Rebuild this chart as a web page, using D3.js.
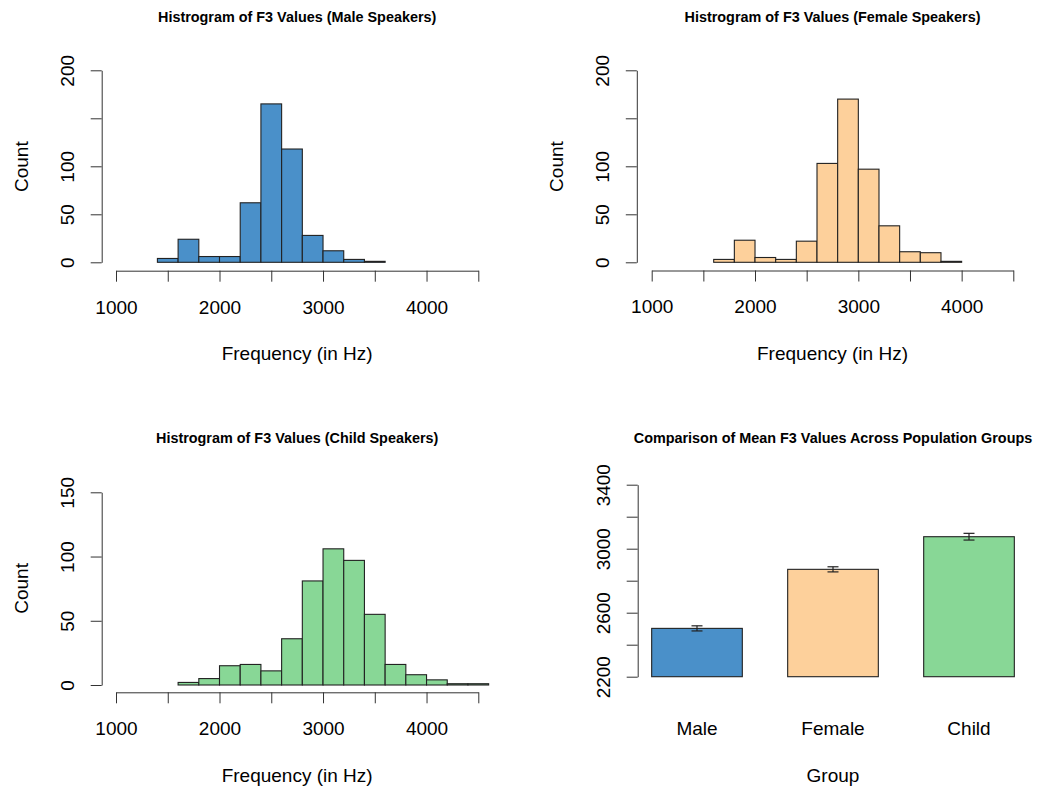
<!DOCTYPE html>
<html><head><meta charset="utf-8">
<script src="https://cdn.jsdelivr.net/npm/d3@7"></script>
<style>
html,body{margin:0;padding:0;background:#fff;}
svg{display:block;font-family:"Liberation Sans",Arial,sans-serif;}
</style></head>
<body><svg id="c" width="1037" height="786"></svg>
<script>
// ---------- data ----------
const binWidth = 200;
const maleBins   = [1400,1600,1800,2000,2200,2400,2600,2800,3000,3200,3400];
const maleCounts = [4,24,6,6,62,165,118,28,12,3,1];
const femaleBins   = [1600,1800,2000,2200,2400,2600,2800,3000,3200,3400,3600,3800];
const femaleCounts = [3,23,5,3,22,103,170,97,38,11,10,1];
const childBins   = [1600,1800,2000,2200,2400,2600,2800,3000,3200,3400,3600,3800,4000,4200,4400];
const childCounts = [2,5,15,16,11,36,81,106,97,55,16,8,4,1,1];
const groups = ["Male","Female","Child"];
const groupMeans = [2502,2871,3075];
const groupSE = [16,16,21];
const freqTicks = [1000,1500,2000,2500,3000,3500,4000,4500];
const freqTickLabels = [1000,2000,3000,4000];
const countTicks200 = [0,50,100,150,200];
const countLabels200 = [0,50,100,200];
const countTicks150 = [0,50,100,150];
const countLabels150 = [0,50,100,150];
const meanTicks = [2200,2400,2600,2800,3000,3200,3400];
const meanTickLabels = [2200,2600,3000,3400];
const colors = {Male:"#4a90c9", Female:"#fdd09b", Child:"#88d796"};

const svg = d3.select("#c");
const FS = 19, TFS = 14.4, AX = "#333";

function styleAxis(g){
  g.select(".domain").attr("stroke",AX).attr("stroke-width",1);
  g.selectAll(".tick line").attr("stroke",AX).attr("stroke-width",1);
  g.selectAll("text").attr("font-size",FS).attr("fill","#000").attr("font-family","Liberation Sans, Arial, sans-serif");
}

function bottomAxis(x, ticks, labels, yPos){
  const g = svg.append("g").attr("transform",`translate(0,${yPos})`)
    .call(d3.axisBottom(x).tickValues(ticks).tickSize(11).tickSizeOuter(0)
      .tickFormat(d => labels.includes(d) ? String(d) : ""));
  styleAxis(g);
  g.selectAll(".tick text").attr("y",29.5).attr("dy","0.71em");
  return g;
}
function leftAxis(y, ticks, labels, xPos){
  const g = svg.append("g").attr("transform",`translate(${xPos},0)`)
    .call(d3.axisLeft(y).tickValues(ticks).tickSize(11).tickSizeOuter(0)
      .tickFormat(d => labels.includes(d) ? String(d) : ""));
  styleAxis(g);
  g.selectAll(".tick text").attr("x",null).attr("dy",null)
    .attr("text-anchor","middle").attr("transform","translate(-27.7,0) rotate(-90)");
  return g;
}
function title(txt, cx, by){
  svg.append("text").attr("x",cx).attr("y",by).attr("text-anchor","middle")
    .attr("font-size",TFS).attr("font-weight","bold").text(txt);
}
function label(txt, cx, by){
  svg.append("text").attr("x",cx).attr("y",by).attr("text-anchor","middle")
    .attr("font-size",FS).text(txt);
}
function vlabel(txt, bx, cy){
  svg.append("text").attr("transform",`translate(${bx},${cy}) rotate(-90)`)
    .attr("text-anchor","middle").attr("font-size",FS).text(txt);
}

function histogram(opt){
  const x = d3.scaleLinear().domain([1000,4500]).range(opt.xr);
  const y = d3.scaleLinear().domain(opt.yd).range(opt.yr);
  const data = opt.bins.map((b,i)=>({x0:b, x1:b+binWidth, n:opt.counts[i]}));
  svg.append("g").selectAll("rect").data(data).join("rect")
    .attr("x",d=>x(d.x0)).attr("width",d=>x(d.x1)-x(d.x0))
    .attr("y",d=>y(d.n)).attr("height",d=>y(0)-y(d.n))
    .attr("fill",opt.color).attr("stroke","#222").attr("stroke-width",1.1);
  bottomAxis(x, freqTicks, freqTickLabels, opt.xAxisY);
  leftAxis(y, opt.yTicks, opt.yLabels, opt.yAxisX);
  const cx = x(2750);
  title(opt.title, cx, opt.titleY);
  label("Frequency (in Hz)", cx, opt.xAxisY + 89.5);
  const plotTop = y(opt.yd[1]*1.04), plotBot = opt.xAxisY;
  vlabel("Count", opt.yAxisX - 73.7, (plotTop+plotBot)/2);
}

histogram({bins:maleBins, counts:maleCounts, color:colors.Male,
  xr:[116,478.3], yd:[0,200], yr:[262.3,70.3], xAxisY:270.7, yAxisX:101.7,
  yTicks:countTicks200, yLabels:countLabels200, titleY:22,
  title:"Histrogram of F3 Values (Male Speakers)"});
histogram({bins:femaleBins, counts:femaleCounts, color:colors.Female,
  xr:[651.7,1013.3], yd:[0,200], yr:[262.3,70.3], xAxisY:270.5, yAxisX:636.8,
  yTicks:countTicks200, yLabels:countLabels200, titleY:22,
  title:"Histrogram of F3 Values (Female Speakers)"});
histogram({bins:childBins, counts:childCounts, color:colors.Child,
  xr:[116,478.3], yd:[0,150], yr:[685,492.3], xAxisY:692.3, yAxisX:101.7,
  yTicks:countTicks150, yLabels:countLabels150, titleY:443,
  title:"Histrogram of F3 Values (Child Speakers)"});

// ---------- bar chart of means ----------
(function(){
  const y = d3.scaleLinear().domain([2200,3400]).range([676.7,484.7]);
  const x = d3.scaleBand().domain(groups).range([629,1037]).paddingInner(0.3335).paddingOuter(0.1667);
  const data = groups.map((g,i)=>({g, m:groupMeans[i], se:groupSE[i]}));
  svg.append("g").selectAll("rect").data(data).join("rect")
    .attr("x",d=>x(d.g)).attr("width",x.bandwidth())
    .attr("y",d=>y(d.m)).attr("height",d=>y(2200)-y(d.m))
    .attr("fill",d=>colors[d.g]).attr("stroke","#222").attr("stroke-width",1.1);
  const eb = svg.append("g").attr("stroke","#222").attr("stroke-width",1.2);
  data.forEach(d=>{
    const cx = x(d.g)+x.bandwidth()/2;
    eb.append("line").attr("x1",cx).attr("x2",cx).attr("y1",y(d.m+d.se)).attr("y2",y(d.m-d.se));
    eb.append("line").attr("x1",cx-5.5).attr("x2",cx+5.5).attr("y1",y(d.m+d.se)).attr("y2",y(d.m+d.se));
    eb.append("line").attr("x1",cx-5.5).attr("x2",cx+5.5).attr("y1",y(d.m-d.se)).attr("y2",y(d.m-d.se));
    label(d.g, cx, 735);
  });
  leftAxis(y, meanTicks, meanTickLabels, 637.7);
  title("Comparison of Mean F3 Values Across Population Groups", 833, 443);
  label("Group", 833, 781.7);
})();
</script></body></html>
